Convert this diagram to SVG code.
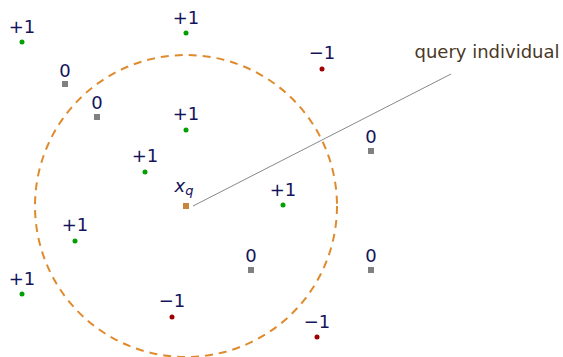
<svg xmlns="http://www.w3.org/2000/svg" width="563" height="357" viewBox="0 0 563 357">
<style>
.l{font-family:"DejaVu Sans","Noto Sans",sans-serif;font-size:18px;fill:#14145a;text-anchor:middle}
.q{font-family:"DejaVu Sans","Noto Sans",sans-serif;font-size:18px;fill:#4a3826;text-anchor:middle}
.p{fill:#00a000}
.n{fill:#a00000}
.z{fill:#808080}
</style>
<rect width="563" height="357" fill="#fff"/>
<g id="connectors">
<circle cx="186" cy="206" r="151" fill="none" stroke="#e08a2e" stroke-width="2" stroke-dasharray="8,6"/>
<line x1="193" y1="206" x2="451" y2="74" stroke="#888" stroke-width="1"/>
</g>
<g id="n1"><circle class="p" cx="22" cy="42" r="2.5"/><text class="l" x="22" y="33">+1</text></g>
<g id="n2"><circle class="p" cx="186" cy="33" r="2.5"/><text class="l" x="186" y="24">+1</text></g>
<g id="n3"><circle class="n" cx="322" cy="69" r="2.5"/><text class="l" x="322" y="59">−1</text></g>
<g id="n4"><rect class="z" x="62" y="81" width="6" height="6"/><text class="l" x="65" y="77">0</text></g>
<g id="n5"><rect class="z" x="94" y="114" width="6" height="6"/><text class="l" x="97" y="109">0</text></g>
<g id="n6"><circle class="p" cx="186" cy="130" r="2.5"/><text class="l" x="186" y="120">+1</text></g>
<g id="n7"><circle class="p" cx="145" cy="172" r="2.5"/><text class="l" x="145" y="162">+1</text></g>
<g id="xq"><rect fill="#c8843c" x="183" y="203" width="6" height="6"/><text class="l" x="184" y="192" font-style="italic">x<tspan font-size="13" dy="3">q</tspan></text></g>
<g id="n8"><circle class="p" cx="283" cy="205" r="2.5"/><text class="l" x="283" y="196">+1</text></g>
<g id="n9"><rect class="z" x="368" y="148" width="6" height="6"/><text class="l" x="371" y="143">0</text></g>
<g id="n10"><circle class="p" cx="75" cy="241" r="2.5"/><text class="l" x="75" y="231">+1</text></g>
<g id="n11"><circle class="p" cx="22" cy="294" r="2.5"/><text class="l" x="22" y="285">+1</text></g>
<g id="n12"><rect class="z" x="248" y="267" width="6" height="6"/><text class="l" x="251" y="262">0</text></g>
<g id="n13"><rect class="z" x="368" y="267" width="6" height="6"/><text class="l" x="371" y="262">0</text></g>
<g id="n14"><circle class="n" cx="172" cy="317" r="2.5"/><text class="l" x="172" y="307">−1</text></g>
<g id="n15"><circle class="n" cx="317" cy="337" r="2.5"/><text class="l" x="317" y="328">−1</text></g>
<g id="label"><text class="q" x="487" y="58">query individual</text></g>
</svg>
